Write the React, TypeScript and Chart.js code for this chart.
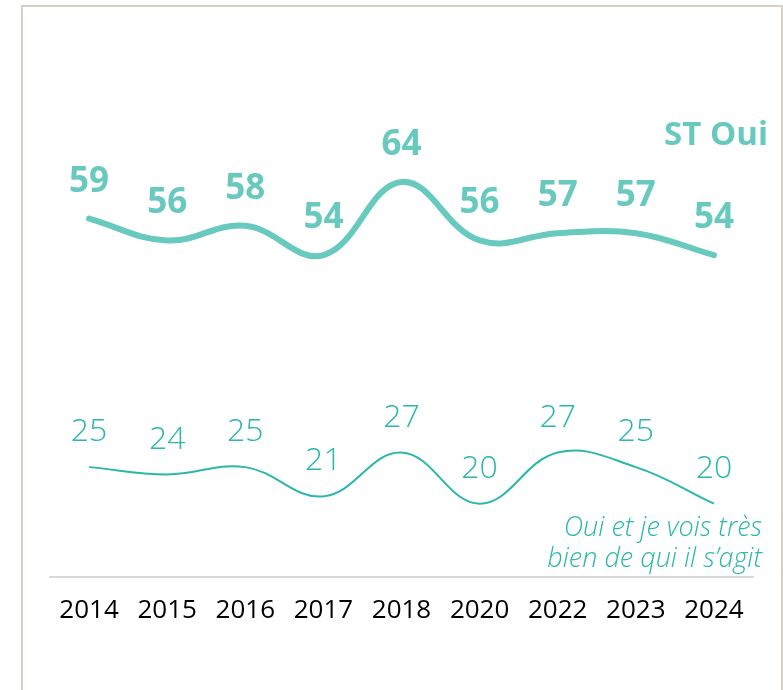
import React, { useEffect, useRef } from "react";
import { Chart, registerables } from "chart.js";

Chart.register(...registerables);

const years = ["2014", "2015", "2016", "2017", "2018", "2020", "2022", "2023", "2024"];
const stOui = [59, 56, 58, 54, 64, 56, 57, 57, 54];
const ouiTresBien = [25, 24, 25, 21, 27, 20, 27, 25, 20];
const seriesNames = ["ST Oui", "Oui et je vois très bien de qui il s’agit"];

const COLOR_ST = "#68c9bf";
const COLOR_TB = "#2bb7a9";

const labelsPlugin = {
  id: "customLabels",
  afterDatasetsDraw(chart: any) {
    const ctx = chart.ctx;
    ctx.save();
    ctx.textAlign = "center";
    ctx.textBaseline = "middle";
    const m0 = chart.getDatasetMeta(0);
    ctx.fillStyle = COLOR_ST;
    ctx.font = "bold 35px 'Open Sans', sans-serif";
    m0.data.forEach((pt: any, i: number) => {
      ctx.fillText(String(stOui[i]), pt.x, pt.y - 37);
    });
    const m1 = chart.getDatasetMeta(1);
    ctx.fillStyle = COLOR_TB;
    ctx.font = "300 32px 'Open Sans', sans-serif";
    m1.data.forEach((pt: any, i: number) => {
      ctx.fillText(String(ouiTresBien[i]), pt.x, pt.y - 35);
    });
    const area = chart.chartArea;
    ctx.textAlign = "right";
    ctx.fillStyle = COLOR_ST;
    ctx.font = "bold 33px 'Open Sans', sans-serif";
    ctx.fillText(seriesNames[0], area.right + 15, 136);
    ctx.fillStyle = COLOR_TB;
    ctx.font = "italic 300 27px 'Open Sans', sans-serif";
    ctx.fillText("Oui et je vois très", area.right + 9, 528);
    ctx.fillText("bien de qui il s’agit", area.right + 9, 559);
    ctx.restore();
  },
};

export default function App() {
  const ref = useRef<HTMLCanvasElement | null>(null);

  useEffect(() => {
    if (!ref.current) return;
    const chart = new Chart(ref.current, {
      type: "line",
      data: {
        labels: years,
        datasets: [
          {
            label: seriesNames[0],
            data: stOui,
            borderColor: COLOR_ST,
            borderWidth: 6,
            tension: 0.4,
            pointRadius: 0,
            borderCapStyle: "round",
            fill: false,
          },
          {
            label: seriesNames[1],
            data: ouiTresBien,
            borderColor: COLOR_TB,
            borderWidth: 2,
            tension: 0.4,
            pointRadius: 0,
            fill: false,
          },
        ],
      },
      options: {
        responsive: false,
        animation: false,
        layout: { padding: { left: 50, right: 30, top: 65, bottom: 46 } },
        plugins: { legend: { display: false }, tooltip: { enabled: false } },
        scales: {
          x: {
            offset: true,
            grid: { display: false, drawTicks: false },
            border: { display: true, color: "#d9d9d9", width: 2 },
            ticks: {
              color: "#000",
              font: { family: "'Open Sans', sans-serif", size: 26 },
              padding: 18,
              maxRotation: 0,
              autoSkip: false,
            },
          },
          y: {
            display: false,
            min: 10,
            max: 80,
          },
        },
      },
      plugins: [labelsPlugin],
    });
    return () => chart.destroy();
  }, []);

  return (
    <div style={{ position: "fixed", left: 0, top: 0, width: 783, height: 690, background: "#fff", overflow: "hidden" }}>
      <div
        style={{
          position: "absolute",
          left: 21,
          top: 5,
          width: 762,
          height: 720,
          border: "2px solid #d8cfc6",
          boxSizing: "border-box",
        }}
      />
      <canvas ref={ref} width={783} height={690} style={{ position: "absolute", left: 0, top: 0 }} />
    </div>
  );
}
